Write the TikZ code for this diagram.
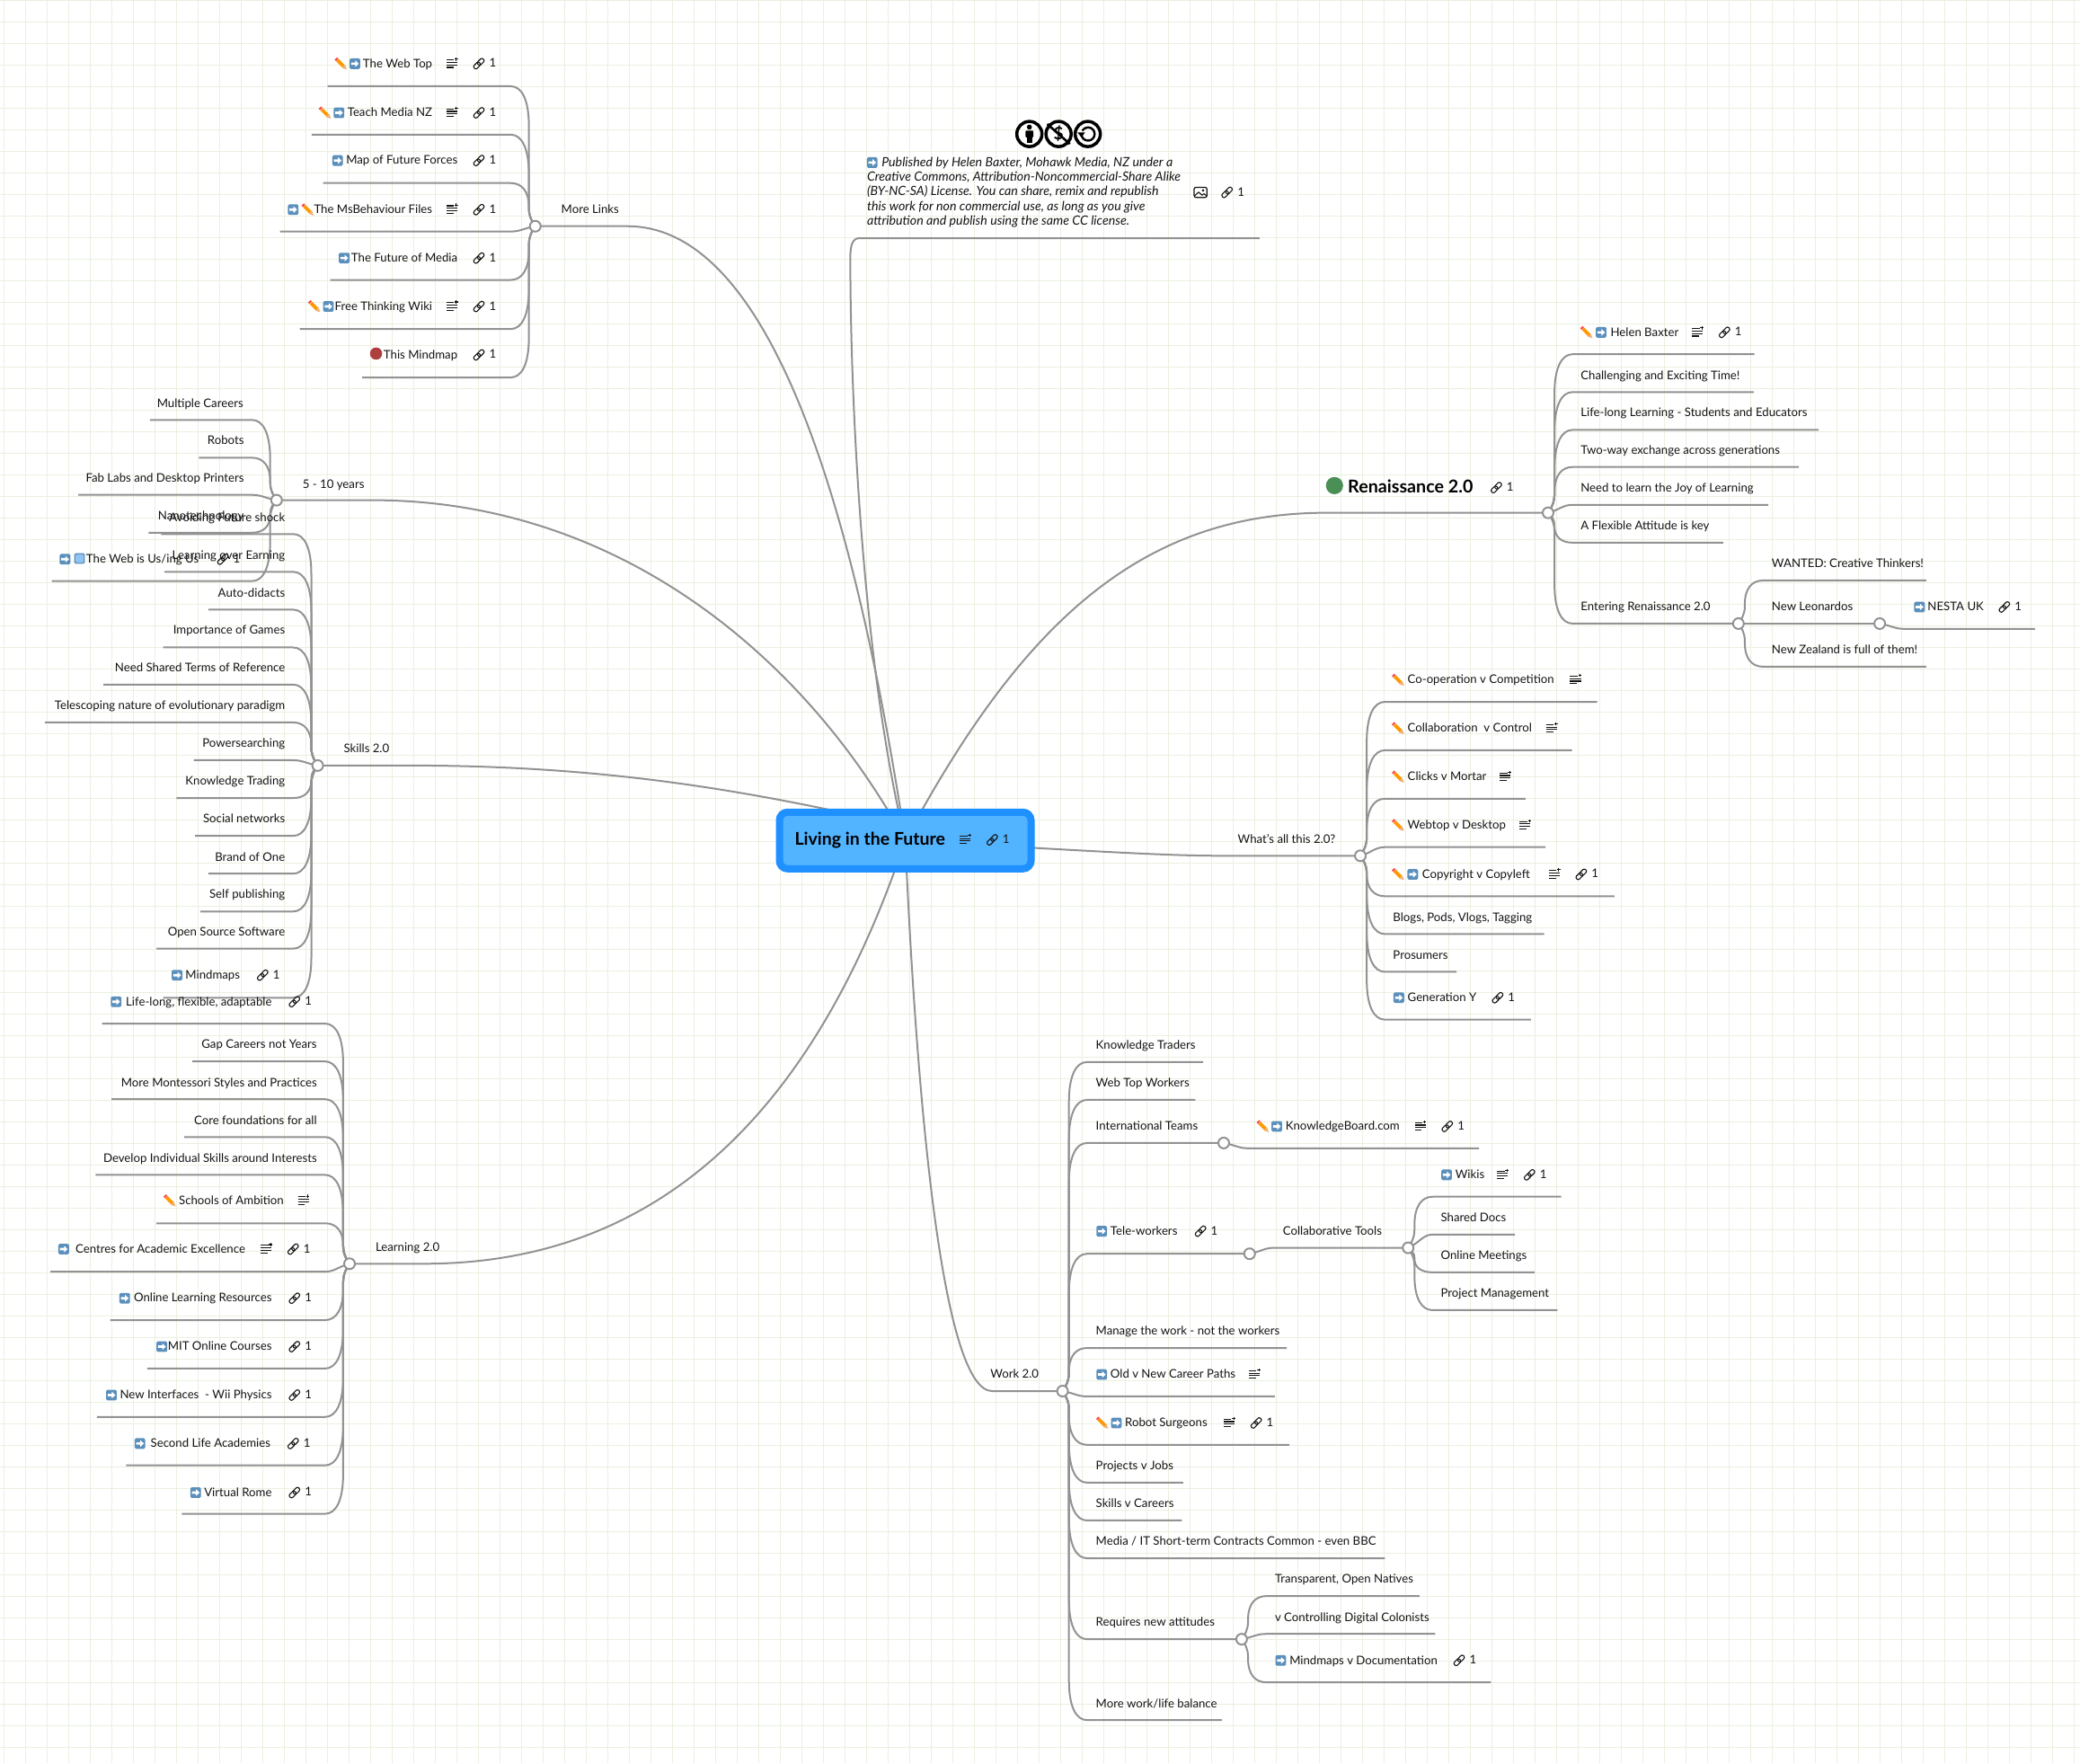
\documentclass[tikz,border=0pt]{standalone}
\usepackage{fontspec}
\setmainfont{Lato}
\usetikzlibrary{calc}
\pgfdeclarelayer{gridl}\pgfdeclarelayer{conn}
\pgfsetlayers{gridl,conn,main}
\definecolor{gridc}{HTML}{E9F0DF}
\definecolor{linec}{HTML}{929292}
\definecolor{txtc}{HTML}{141414}
\definecolor{arwc}{HTML}{5B8FBC}
\definecolor{bluesq}{HTML}{8FC4F2}
\definecolor{outerb}{HTML}{1E90FF}
\definecolor{innerb}{HTML}{52B3FF}
\definecolor{gdot}{HTML}{4A8F55}
\definecolor{rdot}{HTML}{AE3F3F}
\newcount\idc
\tikzset{
 branch/.style={draw=linec,line width=2pt,line join=round},
 lbl/.style={inner sep=0pt,text=txtc,font=\fontsize{13.2}{16}\selectfont},
 junc/.style={circle,draw=linec,line width=2pt,fill=white,minimum size=12pt,inner sep=0pt},
 arw/.pic={\fill[arwc,rounded corners=1.5pt] (-4,-4) rectangle (4,4);
   \fill[white] (-2.8,-.9)--(.3,-.9)--(.3,-2.5)--(3,0)--(.3,2.5)--(.3,.9)--(-2.8,.9)--cycle;},
 sqr/.pic={\fill[arwc,rounded corners=1.5pt] (-4,-4) rectangle (4,4);
   \fill[bluesq,rounded corners=1pt] (-3,-3) rectangle (3,3);},
 pen/.pic={\draw[line width=3.8pt,orange!80!yellow] (-2.6,-2.6)--(2,2);
   \fill[brown!50!orange!60!white] (.8,3.2)--(3.2,.8)--(4.4,4.4)--cycle;
   \draw[line width=3.8pt,red!60!pink] (-3.9,-3.9)--(-2.8,-2.8);},
 nts/.pic={\draw[line width=1.1pt,txtc] (-4.4,-2.9)--(1.2,-2.9) (-4.4,-1)--(3.8,-1) (-4.4,.9)--(3.8,.9) (-4.4,2.8)--(.8,2.8) (3,-4.6)--(3,-2.2) (1.8,-3.4)--(4.2,-3.4);},
 lnk/.pic={\draw[line width=1.1pt,txtc,rounded corners=2pt] (1.71,.55)--(-.55,-1.71)--(-4.51,2.25)--(-2.25,4.51)--cycle;
   \draw[line width=1.1pt,txtc,rounded corners=2pt] (4.51,-2.25)--(2.25,-4.51)--(-1.71,-.55)--(.55,1.71)--cycle;},
 img/.pic={\draw[line width=1.25pt,txtc,rounded corners=2pt] (-4.8,-3.8) rectangle (4.8,3.8);
   \draw[line width=1.1pt,txtc,line join=round] (-4.5,2.6)--(-1.4,-.2)--(1.2,2.2)--(2.6,1)--(4.6,2.6);
   \fill[txtc] (1.9,-1.5) circle (1);}
}
\newcommand\icA[2]{\pic at (#1,#2) {arw};}
\newcommand\icB[2]{\pic at (#1,#2) {sqr};}
\newcommand\icP[2]{\pic at (#1,#2) {pen};}
\newcommand\icN[2]{\pic at (#1,#2) {nts};}
\newcommand\icL[2]{\pic at (#1,#2) {lnk};\global\advance\idc 1
  \node[lbl,anchor=mid west] (o\the\idc) at ($(#1,#2)+(7.7,1)$) {1};}
\newcommand\conn[4]{%
 \begin{pgfonlayer}{conn}
 \pgfpointanchor{#1}{center}\pgfgetlastxy{\cnXp}{\cnYp}%
 \pgfmathsetmacro\cnJx{\cnXp/1.4764}%
 \pgfmathsetmacro\cnJy{(0-(\cnYp))/1.4764}%
 \pgfmathsetmacro\cnDy{\cnJy-#3}%
 \pgfmathsetmacro\cnAd{abs(\cnDy)}%
 \pgfmathsetmacro\cnSg{\cnDy<0?-1:1}%
 \pgfmathsetmacro\cnSx{\cnJx+#4}%
 \pgfmathsetmacro\cnSp{\cnJx+#4*0.26}%
 \coordinate (f) at (#2,#3);
 \ifdim\cnAd pt<12pt
  \pgfmathsetmacro\cnA{\cnSx-#4*0.4}%
  \pgfmathsetmacro\cnB{\cnJx+#4*0.45}%
  \pgfmathsetmacro\cnC{\cnJy-\cnDy*0.35}%
  \draw[branch] (f) -- (\cnSx,#3) .. controls (\cnA,#3) and (\cnB,\cnC) .. (#1.center);
 \else
  \pgfmathsetmacro\cnR{min(30,0.55*\cnAd)}%
  \pgfmathsetmacro\cnQ{min(14,0.4*\cnAd)}%
  \pgfmathsetmacro\cnPc{\cnSp+#4*0.28}%
  \pgfmathsetmacro\cnA{#3+\cnSg*\cnR*0.35}%
  \pgfmathsetmacro\cnB{#3+\cnSg*\cnR}%
  \pgfmathsetmacro\cnC{\cnJy-\cnSg*\cnQ}%
  \pgfmathsetmacro\cnD{\cnJy-\cnSg*\cnQ*0.55}%
  \pgfmathsetmacro\cnE{\cnJx+#4*0.13}%
  \pgfmathsetmacro\cnF{\cnJy-\cnSg*\cnQ*0.25}%
  \draw[branch] (f) -- (\cnSx,#3) .. controls (\cnPc,#3) and (\cnSp,\cnA) .. (\cnSp,\cnB) -- (\cnSp,\cnC) .. controls (\cnSp,\cnD) and (\cnE,\cnF) .. (#1.center);
 \fi
 \end{pgfonlayer}}
% leaf on the left: junction, free x, line y, text right edge, text y, text
\newcommand\lL[6]{\global\advance\idc 1
 \node[lbl,anchor=mid east] (t\the\idc) at ($(#4,#5)+(0,1.2)$) {#6};
 \conn{#1}{#2}{#3}{-18.5}}
% leaf on the right: junction, free x, line y, text left edge, text y, text
\newcommand\lR[6]{\global\advance\idc 1
 \node[lbl,anchor=mid west] (t\the\idc) at ($(#4,#5)+(0,1.2)$) {#6};
 \conn{#1}{#2}{#3}{18.5}}
\begin{document}
\begin{tikzpicture}[x=1.4764pt,y=-1.4764pt]
\useasboundingbox (0,0) rectangle (1568,1329);
\begin{pgfonlayer}{gridl}
 \fill[white] (0,0) rectangle (1568,1329);
 \begin{scope}[x=1pt,y=-1pt]
 \foreach \i in {0,...,96} \draw[gridc,line width=1pt] ({\i*24+4.67},0) -- ({\i*24+4.67},1962.1);
 \foreach \i in {0,...,81} \draw[gridc,line width=1pt] (0,{\i*24}) -- (2315,{\i*24});
 \end{scope}
\end{pgfonlayer}

% centre
\node[draw=outerb,fill=innerb,line width=8pt,rounded corners=9pt,minimum width=280pt,minimum height=63pt,inner sep=0pt] (c) at (682.4,633.5) {};
\coordinate (cup) at ($(c.center)+(0,-10.5)$);
\node[inner sep=0pt,anchor=mid west,text=black,font=\fontsize{19.5}{22}\bfseries\selectfont] (ctitle) at (599,635) {Living in the Future};
\icN{728}{633}\icL{748}{633}

% junctions
\node[junc] (Jm) at (403.5,170.5) {};
\node[junc] (Jy) at (208.5,377) {};
\node[junc] (Js) at (239.5,577) {};
\node[junc] (Jl) at (263.5,952.5) {};
\node[junc] (Jr) at (1167,386.5) {};
\node[junc] (Je) at (1310.5,470) {};
\node[junc] (Jn) at (1417,470) {};
\node[junc] (Ja) at (1025.5,645) {};
\node[junc] (Jw) at (801,1048.5) {};
\node[junc] (Ji) at (922.5,861.5) {};
\node[junc] (Jt) at (942,945) {};
\node[junc] (Jc) at (1061.5,940.5) {};
\node[junc] (Jq) at (936,1235.5) {};

% main branches
\begin{pgfonlayer}{conn}
\draw[branch] (Jm.center) -- (473,170.5) .. controls (590,170.5) and (650,420) .. (c.center);
\draw[branch] (Jy.center) -- (281,377) .. controls (470,377) and (610,500) .. (c.center);
\draw[branch] (Js.center) -- (310,577) .. controls (460,577) and (570,597) .. (cup);
\draw[branch] (Jl.center) -- (320,952.5) .. controls (510,952.5) and (620,820) .. (c.center);
\draw[branch] (Jw.center) -- (748,1048.5) .. controls (712,1048.5) and (692,850) .. (c.center);
\draw[branch] (Ja.center) -- (920,645) .. controls (880,645) and (830,642) .. (c.center);
\draw[branch] (Jr.center) -- (1000,386.5) .. controls (860,386.5) and (770,470) .. (c.center);
\coordinate (licl) at (648,179.5);
\coordinate (licr) at (949.5,179.5);
\draw[branch] (licr) -- (licl) .. controls (643,179.5) and (641,184) .. (641,194) .. controls (641,300) and (650,500) .. (c.center);
\end{pgfonlayer}

% branch labels
\node[lbl,anchor=mid west] (lm) at (423,159.2) {More Links};
\node[lbl,anchor=mid west] (ly) at (228,366.2) {5 - 10 years};
\node[lbl,anchor=mid west] (ls) at (259,565.7) {Skills 2.0};
\node[lbl,anchor=mid west] (ll) at (283,941.2) {Learning 2.0};
\node[lbl,anchor=mid west] (la) at (933,633.7) {What's all this 2.0?};
\node[lbl,anchor=mid west] (lw) at (746.5,1037.2) {Work 2.0};

% More Links
\lL{Jm}{247}{65}{326}{48}{The Web Top}\icP{257}{48}\icA{267.5}{48}\icN{341}{48}\icL{361}{48}
\lL{Jm}{235}{101.5}{326}{85}{Teach Media NZ}\icP{245}{85}\icA{255.5}{85}\icN{341}{85}\icL{361}{85}
\lL{Jm}{243.5}{138}{345}{121}{Map of Future Forces}\icA{254.5}{121}\icL{361}{121}
\lL{Jm}{211}{174.5}{326}{158}{The MsBehaviour Files}\icA{221}{158}\icP{232}{158}\icN{341}{158}\icL{361}{158}
\lL{Jm}{249}{211}{345}{194.5}{The Future of Media}\icA{259.5}{194.5}\icL{361}{194.5}
\lL{Jm}{226}{248}{326}{231}{Free Thinking Wiki}\icP{237}{231}\icA{247.5}{231}\icN{341}{231}\icL{361}{231}
\lL{Jm}{273}{284.5}{345}{267.5}{This Mindmap}\fill[rdot] (283.5,266.5) circle (4.6);\icL{361}{267.5}

% 5-10 years
\lL{Jy}{113}{316.5}{183.5}{304}{Multiple Careers}
\lL{Jy}{150}{345}{184}{332}{Robots}
\lL{Jy}{59}{373}{184}{360.5}{Fab Labs and Desktop Printers}
\lL{Jy}{112}{401.5}{184}{389}{Nanotechnology}
\lL{Jy}{39}{438}{150}{421.5}{The Web is Us/ing Us}\icA{49}{421.5}\icB{60}{421}\icL{168}{421.5}

% Skills 2.0
\lL{Js}{121.5}{402.5}{215}{390}{Avoiding Future shock}
\lL{Js}{124}{431}{215}{418.5}{Learning over Earning}
\lL{Js}{157}{459.5}{215}{447}{Auto-didacts}
\lL{Js}{123}{488}{215}{475}{Importance of Games}
\lL{Js}{78}{516}{215}{503.5}{Need Shared Terms of Reference}
\lL{Js}{34}{544.5}{215}{532}{Telescoping nature of evolutionary paradigm}
\lL{Js}{146}{573}{215}{560.5}{Powersearching}
\lL{Js}{133}{601.5}{215}{589}{Knowledge Trading}
\lL{Js}{147}{630}{215}{617.5}{Social networks}
\lL{Js}{157}{658.5}{215}{646}{Brand of One}
\lL{Js}{151}{687}{215}{674}{Self publishing}
\lL{Js}{118}{715}{215}{702.5}{Open Source Software}
\lL{Js}{123}{752}{181}{735}{Mindmaps}\icA{133.5}{735}\icL{198}{735}

% Learning 2.0
\lL{Jl}{77}{771.5}{205}{755}{Life-long, flexible, adaptable}\icA{87.5}{755}\icL{222}{755}
\lL{Jl}{145}{800}{239}{787.5}{Gap Careers not Years}
\lL{Jl}{84}{828.5}{239}{816}{More Montessori Styles and Practices}
\lL{Jl}{139}{857}{239}{844.5}{Core foundations for all}
\lL{Jl}{72}{885.5}{239}{873}{Develop Individual Skills around Interests}
\lL{Jl}{118}{922}{214}{905}{Schools of Ambition}\icP{128}{905}\icN{229}{905}
\lL{Jl}{38}{958.5}{185}{941.5}{Centres for Academic Excellence}\icA{48}{941.5}\icN{201}{941.5}\icL{221}{941.5}
\lL{Jl}{83}{995}{205}{978.5}{Online Learning Resources}\icA{94}{978.5}\icL{222}{978.5}
\lL{Jl}{111}{1031.5}{205}{1015}{MIT Online Courses}\icA{122}{1015}\icL{222}{1015}
\lL{Jl}{73}{1068}{205}{1051.5}{New Interfaces\ \ - Wii Physics}\icA{84}{1051.5}\icL{222}{1051.5}
\lL{Jl}{95}{1104.5}{204}{1088}{Second Life Academies}\icA{105.5}{1088}\icL{221}{1088}
\lL{Jl}{137}{1141}{205}{1125}{Virtual Rome}\icA{147.5}{1125}\icL{222}{1125}

% Licence
\node[circle,draw=black,line width=3.5pt,minimum size=28pt,inner sep=0pt] (cc1) at (776,101) {};
\node[circle,draw=black,line width=3.5pt,minimum size=28pt,inner sep=0pt] (cc2) at (798,101) {};
\node[circle,draw=black,line width=3.5pt,minimum size=28pt,inner sep=0pt] (cc3) at (820,101) {};
\fill[black] (776,95.8) circle (1.9);
\fill[black,rounded corners=.8pt] (773,98.5) rectangle (779,103.5);
\fill[black] (774,103) rectangle (778,108);
\node[inner sep=0pt,font=\fontsize{19}{20}\bfseries\selectfont] (ccd) at (798,101) {\$};
\draw[black,line width=2.6pt] (789.5,93.5) -- (806.5,108.5);
\draw[black,line width=2.4pt] (815.2,101) arc[start angle=180,end angle=-150,radius=5];
\fill[black] (812.3,99.8) -- (818,99.8) -- (815.2,103.6) -- cycle;
\icA{657.5}{122.5}
\begin{scope}[every node/.style={inner sep=0pt,anchor=mid west,text=txtc,font=\fontsize{14.2}{15}\itshape\selectfont}]
\node (li1) at (664.5,124.2) {Published by Helen Baxter, Mohawk Media, NZ under a};
\node (li2) at (653.5,134.8) {Creative Commons, Attribution-Noncommercial-Share Alike};
\node (li3) at (653.5,145.9) {(BY-NC-SA) License. You can share, remix and republish};
\node (li4) at (653.5,156.8) {this work for non commercial use, as long as you give};
\node (li5) at (653.5,168) {attribution and publish using the same CC license.};
\end{scope}
\pic at (905,145) {img};\icL{925}{145}

% Renaissance
\fill[gdot] (1006,366) circle (6.5);
\node[inner sep=0pt,anchor=mid west,text=black,font=\fontsize{19.7}{20}\bfseries\selectfont] (lr) at (1016,370) {Renaissance 2.0};
\icL{1128}{367.5}
\lR{Jr}{1322.5}{267}{1214}{250.5}{Helen Baxter}\icP{1196}{250.5}\icA{1207}{250.5}\icN{1280}{250.5}\icL{1300}{250.5}
\lR{Jr}{1322}{295.5}{1191.5}{283}{Challenging and Exciting Time!}
\lR{Jr}{1371}{324}{1191.5}{311}{Life-long Learning - Students and Educators}
\lR{Jr}{1356}{352}{1191.5}{339.5}{Two-way exchange across generations}
\lR{Jr}{1333}{380.5}{1191.5}{368}{Need to learn the Joy of Learning}
\lR{Jr}{1299}{409}{1191.5}{396.5}{A Flexible Attitude is key}
\lR{Jr}{1310.5}{470}{1191.5}{457.5}{Entering Renaissance 2.0}
\lR{Je}{1452}{437.5}{1335.5}{425}{WANTED: Creative Thinkers!}
\lR{Je}{1417}{470}{1335.5}{457.5}{New Leonardos}
\lR{Je}{1452}{502.5}{1335.5}{490}{New Zealand is full of them!}
\lR{Jn}{1534}{474}{1453}{457.5}{NESTA UK}\icA{1447}{457.5}\icL{1511}{457.5}

% What's all this
\lR{Ja}{1204}{529}{1061}{512.5}{Co-operation v Competition}\icP{1054}{512.5}\icN{1188}{512.5}
\lR{Ja}{1185}{565.5}{1061}{549}{Collaboration\ \ v Control}\icP{1054}{549}\icN{1170}{549}
\lR{Ja}{1150}{602}{1061}{585.5}{Clicks v Mortar}\icP{1054}{585.5}\icN{1135}{585.5}
\lR{Ja}{1165}{638.5}{1061}{622}{Webtop v Desktop}\icP{1054}{622}\icN{1150}{622}
\lR{Ja}{1217}{675.5}{1072}{659}{Copyright v Copyleft}\icP{1054}{659}\icA{1065}{659}\icN{1172}{659}\icL{1192}{659}
\lR{Ja}{1164}{704}{1050}{691.5}{Blogs, Pods, Vlogs, Tagging}
\lR{Ja}{1098}{732.5}{1050}{720}{Prosumers}
\lR{Ja}{1154}{768.5}{1061}{752}{Generation Y}\icA{1054.5}{752}\icL{1129}{752}

% Work
\lR{Jw}{907}{800.5}{826}{788}{Knowledge Traders}
\lR{Jw}{901}{829}{826}{816.5}{Web Top Workers}
\lR{Jw}{922.5}{861.5}{826}{849}{International Teams}
\lR{Ji}{1115}{865.5}{969}{849}{KnowledgeBoard.com}\icP{952}{849}\icA{962.5}{849}\icN{1071}{849}\icL{1091}{849}
\lR{Jw}{942}{945}{837}{928}{Tele-workers}\icA{830.5}{928}\icL{905}{928}
\lR{Jt}{1061.5}{940.5}{967}{928}{Collaborative Tools}
\lR{Jc}{1177}{902}{1097}{885.5}{Wikis}\icA{1090.5}{885.5}\icN{1133}{885.5}\icL{1153}{885.5}
\lR{Jc}{1142}{930.5}{1086}{918}{Shared Docs}
\lR{Jc}{1157}{959}{1086}{946.5}{Online Meetings}
\lR{Jc}{1174}{987.5}{1086}{975}{Project Management}
\lR{Jw}{970}{1016}{826}{1003.5}{Manage the work - not the workers}
\lR{Jw}{961}{1052.5}{837}{1036}{Old v New Career Paths}\icA{830.5}{1036}\icN{946}{1036}
\lR{Jw}{972}{1089}{848}{1072.5}{Robot Surgeons}\icP{831}{1072.5}\icA{841.5}{1072.5}\icN{927}{1072.5}\icL{947}{1072.5}
\lR{Jw}{892}{1117.5}{826}{1105}{Projects v Jobs}
\lR{Jw}{891}{1146}{826}{1133.5}{Skills v Careers}
\lR{Jw}{1044}{1174.5}{826}{1162}{Media / IT Short-term Contracts Common - even BBC}
\lR{Jw}{936}{1235.5}{826}{1223}{Requires new attitudes}
\lR{Jq}{1070}{1203}{961}{1190.5}{Transparent, Open Natives}
\lR{Jq}{1082}{1231.5}{961}{1219}{v Controlling Digital Colonists}
\lR{Jq}{1124}{1268}{972}{1251.5}{Mindmaps v Documentation}\icA{965.5}{1251.5}\icL{1100}{1251.5}
\lR{Jw}{921}{1296.5}{826}{1284}{More work/life balance}
\end{tikzpicture}
\end{document}
